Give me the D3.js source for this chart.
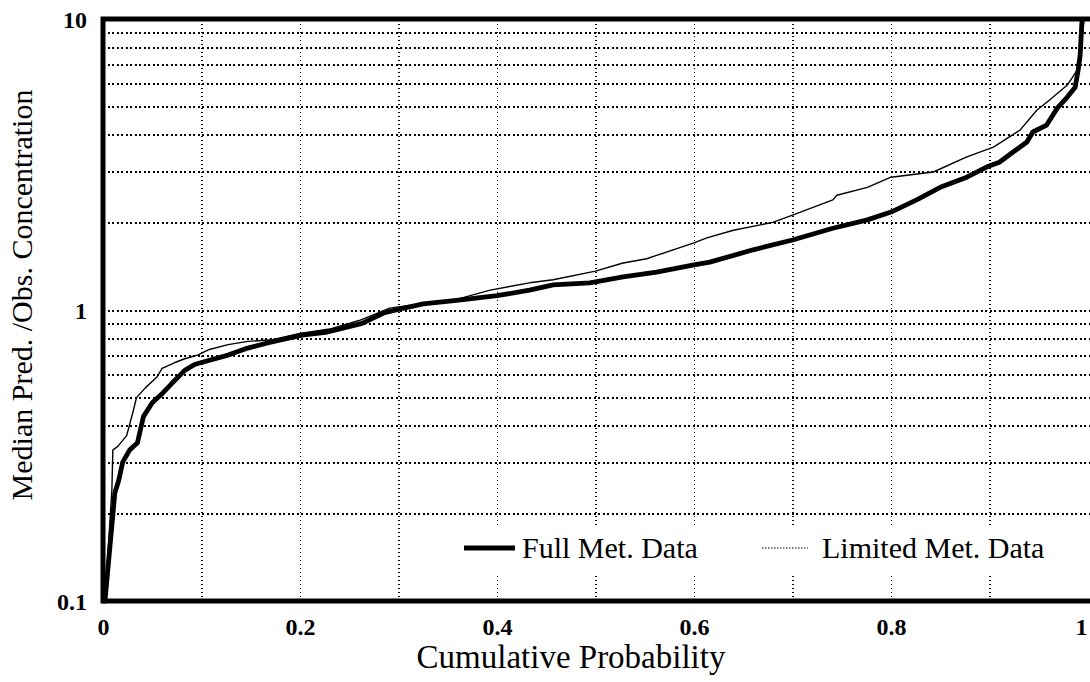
<!DOCTYPE html>
<html>
<head>
<meta charset="utf-8">
<script src="https://cdn.jsdelivr.net/npm/d3@7"></script>
<style>
  html, body { margin: 0; padding: 0; background: #fff; }
  svg { display: block; }
  text { font-family: "Liberation Serif", "Times New Roman", serif; fill: #000; }
</style>
</head>
<body>
<svg id="chart" width="1090" height="682"></svg>
<script>
// ---- data ----
const xTickValues = [0, 0.2, 0.4, 0.6, 0.8, 1];
const xTickLabels = ["0", "0.2", "0.4", "0.6", "0.8", "1"];
const yTickValues = [0.1, 1, 10];
const yTickLabels = ["0.1", "1", "10"];
const xTitle = "Cumulative Probability";
const yTitle = "Median Pred. /Obs.  Concentration";
const seriesNames = ["Full Met. Data", "Limited Met. Data"];

const fullProb = [0, 0.002, 0.012, 0.016, 0.020, 0.027, 0.035, 0.041, 0.050, 0.061, 0.070, 0.083, 0.093, 0.100,
  0.127, 0.147, 0.167, 0.202, 0.228, 0.263, 0.286, 0.303, 0.325, 0.359, 0.400, 0.433, 0.457, 0.494,
  0.500, 0.528, 0.562, 0.600, 0.616, 0.660, 0.700, 0.741, 0.776, 0.800, 0.826, 0.850, 0.877, 0.897,
  0.910, 0.924, 0.938, 0.944, 0.958, 0.969, 0.979, 0.987, 0.990, 0.992, 0.994];
const fullRatio = [0.1, 0.1, 0.235, 0.26, 0.30, 0.33, 0.35, 0.43, 0.48, 0.52, 0.56, 0.62, 0.65, 0.66,
  0.70, 0.74, 0.77, 0.82, 0.84, 0.90, 0.98, 1.01, 1.05, 1.08, 1.12, 1.17, 1.22, 1.24,
  1.25, 1.30, 1.35, 1.43, 1.46, 1.61, 1.74, 1.91, 2.04, 2.17, 2.39, 2.64, 2.86, 3.10,
  3.22, 3.49, 3.78, 4.09, 4.32, 4.95, 5.39, 5.83, 6.67, 7.5, 10];

const limProb = [0, 0.002, 0.009, 0.010, 0.015, 0.024, 0.030, 0.034, 0.043, 0.055, 0.060, 0.073, 0.083, 0.096,
  0.107, 0.127, 0.147, 0.172, 0.200, 0.230, 0.260, 0.280, 0.291, 0.330, 0.360, 0.393, 0.433, 0.457,
  0.500, 0.528, 0.552, 0.562, 0.600, 0.613, 0.640, 0.680, 0.700, 0.741, 0.745, 0.776, 0.800, 0.843,
  0.877, 0.904, 0.931, 0.948, 0.961, 0.979, 0.989, 0.993, 0.996];
const limRatio = [0.1, 0.1, 0.24, 0.33, 0.34, 0.37, 0.44, 0.50, 0.54, 0.59, 0.63, 0.66, 0.68, 0.70,
  0.73, 0.76, 0.78, 0.79, 0.83, 0.86, 0.92, 0.98, 1.015, 1.06, 1.09, 1.17, 1.24, 1.27,
  1.36, 1.45, 1.50, 1.54, 1.70, 1.77, 1.88, 2.00, 2.12, 2.39, 2.48, 2.64, 2.86, 2.98,
  3.36, 3.63, 4.15, 4.86, 5.27, 5.93, 6.67, 8.0, 10];

// ---- layout ----
const svg = d3.select("#chart");
const L = 103, R = 1088, T = 19, B = 601;

const x = d3.scaleLinear().domain([0, 1]).range([L, R]);
const y = d3.scaleLog().domain([0.1, 10]).range([B, T]);

// grid
const gridG = svg.append("g");
const xGridVals = d3.range(1, 10).map(i => i / 10);
gridG.append("g")
  .attr("transform", `translate(0,${B})`)
  .call(d3.axisBottom(x).tickValues(xGridVals).tickSize(-(B - T)).tickFormat(""))
  .call(g => g.select(".domain").remove())
  .call(g => g.selectAll("line").attr("stroke", "#000").attr("stroke-width", 1.5)
    .attr("stroke-dasharray", "1.5,2.5").attr("shape-rendering", "crispEdges"));

const yGridVals = [];
[0.1, 1].forEach(d => { for (let k = 2; k <= 9; k++) yGridVals.push(+(d * k).toFixed(3)); });
yGridVals.push(1);
gridG.append("g")
  .attr("transform", `translate(${L},0)`)
  .call(d3.axisLeft(y).tickValues(yGridVals).tickSize(-(R + 2 - L)).tickFormat(""))
  .call(g => g.select(".domain").remove())
  .call(g => g.selectAll("line").attr("stroke", "#000").attr("stroke-width", 2)
    .attr("stroke-dasharray", "2,2.5").attr("shape-rendering", "crispEdges"));

// legend background (covers grid)
svg.append("rect").attr("x", 455).attr("y", 527).attr("width", 610).attr("height", 46).attr("fill", "#fff");

// curves
const line = d3.line().x(d => x(d[0])).y(d => y(d[1]));
const fullData = fullProb.map((p, i) => [p, fullRatio[i]]);
const limData = limProb.map((p, i) => [p, limRatio[i]]);

svg.append("path").datum(limData).attr("d", line)
  .attr("fill", "none").attr("stroke", "#000").attr("stroke-width", 1.4).attr("stroke-linejoin", "round");
svg.append("path").datum(fullData).attr("d", line)
  .attr("fill", "none").attr("stroke", "#000").attr("stroke-width", 4.8).attr("stroke-linejoin", "round");

// frame: left, top, bottom
svg.append("path")
  .attr("d", `M${R + 2},${T} L${L},${T} L${L},${B} L${R + 2},${B}`)
  .attr("fill", "none").attr("stroke", "#000").attr("stroke-width", 5).attr("stroke-linejoin", "miter");

// axes labels
svg.append("g")
  .attr("transform", `translate(0,${B})`)
  .call(d3.axisBottom(x).tickValues(xTickValues).tickSize(0).tickPadding(0)
    .tickFormat((d, i) => xTickLabels[i]))
  .call(g => g.select(".domain").remove())
  .call(g => g.selectAll("text")
    .attr("y", 34).attr("dy", null)
    .attr("font-family", "Liberation Serif, serif")
    .attr("font-size", 24).attr("font-weight", "bold").attr("fill", "#000"))
  .call(g => g.selectAll(".tick").filter(d => d === 1).select("text")
    .attr("text-anchor", "end").attr("x", -1));

svg.append("g")
  .attr("transform", `translate(${L},0)`)
  .call(d3.axisLeft(y).tickValues(yTickValues).tickSize(0).tickPadding(0)
    .tickFormat((d, i) => yTickLabels[i]))
  .call(g => g.select(".domain").remove())
  .call(g => g.selectAll("text")
    .attr("x", -16).attr("dy", "0.34em")
    .attr("font-family", "Liberation Serif, serif")
    .attr("font-size", 24).attr("font-weight", "bold").attr("fill", "#000"));

// titles
svg.append("text").attr("x", 571).attr("y", 668).attr("text-anchor", "middle")
  .attr("font-size", 33).text(xTitle);
svg.append("text").attr("transform", "translate(32,295) rotate(-90)").attr("text-anchor", "middle")
  .attr("font-size", 30).text(yTitle);

// legend
const lg = svg.append("g");
lg.append("line").attr("x1", 464).attr("x2", 515).attr("y1", 548).attr("y2", 548)
  .attr("stroke", "#000").attr("stroke-width", 5);
lg.append("text").attr("x", 522).attr("y", 558).attr("font-size", 30).text(seriesNames[0]);
lg.append("line").attr("x1", 762).attr("x2", 808).attr("y1", 548).attr("y2", 548)
  .attr("stroke", "#000").attr("stroke-width", 1.2).attr("stroke-dasharray", "1.5,1.5");
lg.append("text").attr("x", 822).attr("y", 558).attr("font-size", 30).text(seriesNames[1]);
</script>
</body>
</html>
